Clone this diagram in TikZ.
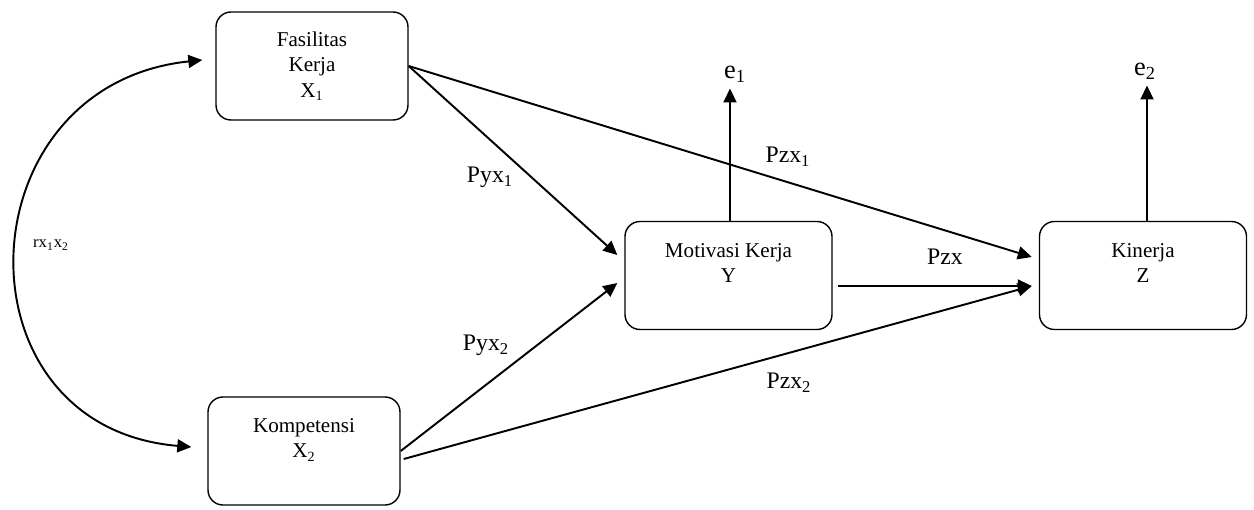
\documentclass[tikz,border=0pt]{standalone}
\usepackage{fontspec}
\setmainfont{Liberation Serif}
\usetikzlibrary{arrows.meta}

\begin{document}
\begin{tikzpicture}[x=0.2mm,y=-0.2mm]
				\tikzstyle{box}=[draw,rounded corners=3mm,line width=0.8pt,
				minimum width=38.4mm,minimum height=21.6mm,align=center,
				font=\fontsize{12}{14.5}\selectfont]
				\tikzstyle{wide}=[minimum width=41.4mm]
				\tikzstyle{lbl}=[inner sep=0pt,font=\fontsize{13.5}{16}\selectfont]
				\tikzstyle{err}=[inner sep=0pt,font=\fontsize{15}{17}\selectfont]
				\tikzstyle{arr}=[-{Triangle[length=2.8mm,width=2.6mm]},line width=1.1pt]
				\useasboundingbox (0,0) rectangle (1254,510);
				% variabel
				\node[box] (fas) at (312,66) {Fasilitas\\Kerja\\X\textsubscript{1}};
				\node[box] (kom) at (304,451) {Kompetensi\\X\textsubscript{2}\\ ~};
				\node[box,wide] (mot) at (728.5,275.5) {Motivasi Kerja\\Y\\ ~};
				\node[box,wide] (kin) at (1143,275.5) {Kinerja\\Z\\ ~};
				\node[err] (e1) at (735,74) {e\textsubscript{1}};
				\node[err] (e2) at (1145,71) {e\textsubscript{2}};
				% jalur
				\draw[arr] (fas.east) -- ([xshift=-1.4mm,yshift=4.1mm]mot.west);
				\draw[arr] (kom.east) -- ([xshift=-1.4mm,yshift=-1.5mm]mot.west);
				\draw[arr] (fas.east) -- ([xshift=-1.4mm,yshift=3.7mm]kin.west);
				\draw[arr] ([xshift=1mm,yshift=-2.1mm]mot.east) -- ([xshift=-1.4mm,yshift=-2.1mm]kin.west);
				\draw[arr] ([xshift=0.6mm,yshift=-1.6mm]kom.east) -- ([xshift=-1.4mm,yshift=-2.1mm]kin.west);
				\draw[arr] ([xshift=0.3mm]mot.north) -- ([xshift=0.3mm,yshift=-1.2mm]mot.north |- e1.south);
				\draw[arr] ([xshift=0.8mm]kin.north) -- ([xshift=0.8mm,yshift=-1.2mm]kin.north |- e2.south);
				\draw[arr,{Triangle[length=2.8mm,width=2.6mm]}-{Triangle[length=2.8mm,width=2.6mm]}]
				([xshift=-3.2mm,yshift=0.8mm]kom.west) .. controls +(-240,-20) and +(-240,25) .. ([xshift=-2.6mm,yshift=1.2mm]fas.west);
				% label jalur
				\node[lbl] (pyx1) at (490,177) {Pyx\textsubscript{1}};
				\node[lbl] (pyx2) at (486,345) {Pyx\textsubscript{2}};
				\node[lbl] (pzx1) at (788,157) {Pzx\textsubscript{1}};
				\node[lbl] (pzx2) at (789,383) {Pzx\textsubscript{2}};
				\node[lbl] (pzx) at (945,257) {Pzx};
				\node[inner sep=0pt,font=\fontsize{9.5}{11}\selectfont] (r12) at (51,245) {rx\textsubscript{1}x\textsubscript{2}};
\end{tikzpicture}
\end{document}
